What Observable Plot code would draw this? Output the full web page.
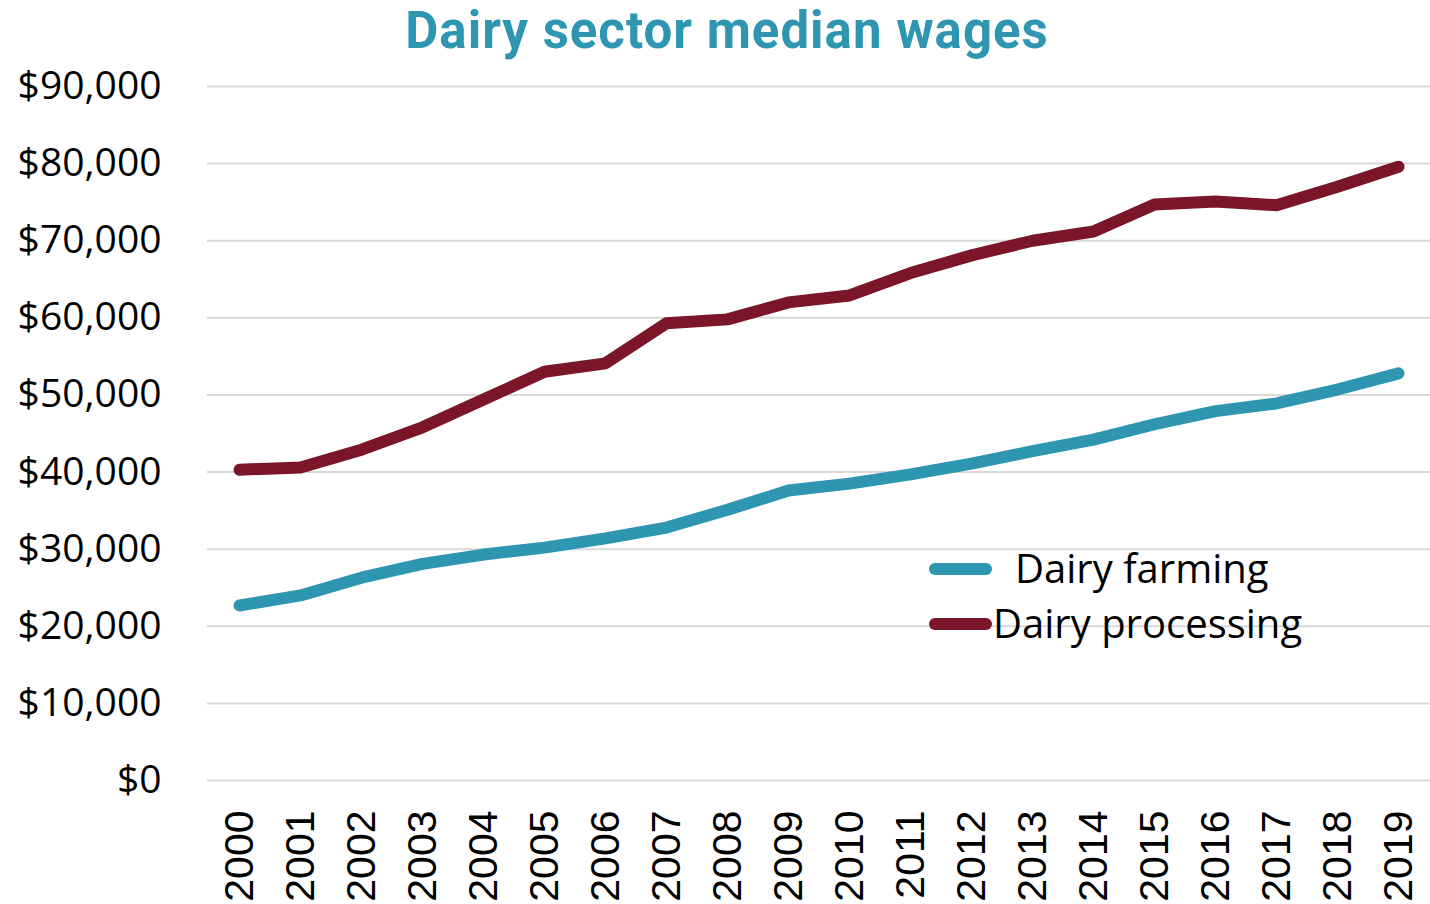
<!DOCTYPE html>
<html>
<head>
<meta charset="utf-8">
<script src="https://cdn.jsdelivr.net/npm/d3@7"></script>
<script src="https://cdn.jsdelivr.net/npm/@observablehq/plot@0.6"></script>
<style>
  html, body { margin: 0; padding: 0; background: #fff; }
</style>
</head>
<body>
<div id="chart"></div>
<script>
const titleText = "Dairy sector median wages";
const years = ["2000","2001","2002","2003","2004","2005","2006","2007","2008","2009","2010","2011","2012","2013","2014","2015","2016","2017","2018","2019"];
const farming = [22700,24000,26300,28100,29300,30200,31400,32800,35100,37600,38500,39700,41100,42700,44200,46200,47900,48900,50700,52800];
const processing = [40300,40600,42900,45800,49400,53000,54100,59300,59800,62000,62900,65800,68100,70000,71200,74700,75100,74600,77000,79600];
const seriesNames = ["Dairy farming","Dairy processing"];
const seriesColors = ["#2E96B1","#7B1528"];
const yTicks = [0,10000,20000,30000,40000,50000,60000,70000,80000,90000];

const rows = [];
years.forEach((y,i) => {
  rows.push({year: y, value: farming[i], series: seriesNames[0]});
  rows.push({year: y, value: processing[i], series: seriesNames[1]});
});

const chart = Plot.plot({
  width: 1430,
  height: 904,
  marginLeft: 207,
  marginRight: 0,
  marginTop: 86,
  marginBottom: 124,
  style: {fontFamily: "'Open Sans', sans-serif", background: "#fff", color: "#000"},
  x: {type: "point", domain: years, padding: 0.5, label: null},
  y: {domain: [0, 90000], label: null},
  color: {domain: seriesNames, range: seriesColors},
  marks: [
    Plot.gridY(yTicks, {stroke: "#d9d9d9", strokeOpacity: 1, strokeWidth: 2}),
    Plot.axisY(yTicks, {tickSize: 0, tickPadding: 46, fontSize: 39, tickFormat: d => "$" + d3.format(",")(d), label: null}),
    Plot.axisX({tickSize: 0, tickPadding: 30, tickRotate: -90, fontSize: 41, fontFamily: "'Liberation Sans', Arial, sans-serif", label: null}),
    Plot.line(rows, {x: "year", y: "value", stroke: "series", strokeWidth: 12, strokeLinecap: "round", strokeLinejoin: "round"})
  ]
});
document.getElementById("chart").appendChild(chart);

const svg = d3.select(chart);
// title
svg.append("text").attr("x", 727).attr("y", 48).attr("text-anchor", "middle")
  .attr("font-family", "Roboto, sans-serif").attr("font-weight", 700).attr("font-size", 51)
  .attr("letter-spacing", 1).attr("fill", "#2E96B1").text(titleText);

// legend
const items = [
  {name: seriesNames[0], color: seriesColors[0], y: 569, tx: 1015},
  {name: seriesNames[1], color: seriesColors[1], y: 624, tx: 993}
];
items.forEach(it => {
  svg.append("line").attr("x1", 935).attr("x2", 986).attr("y1", it.y).attr("y2", it.y)
    .attr("stroke", it.color).attr("stroke-width", 12).attr("stroke-linecap", "round");
  svg.append("text").attr("x", it.tx).attr("y", it.y).attr("dy", "0.35em").attr("text-anchor", "start")
    .attr("font-family", "'Open Sans', sans-serif").attr("font-size", 40).attr("fill", "#000").text(it.name);
});
</script>
</body>
</html>
